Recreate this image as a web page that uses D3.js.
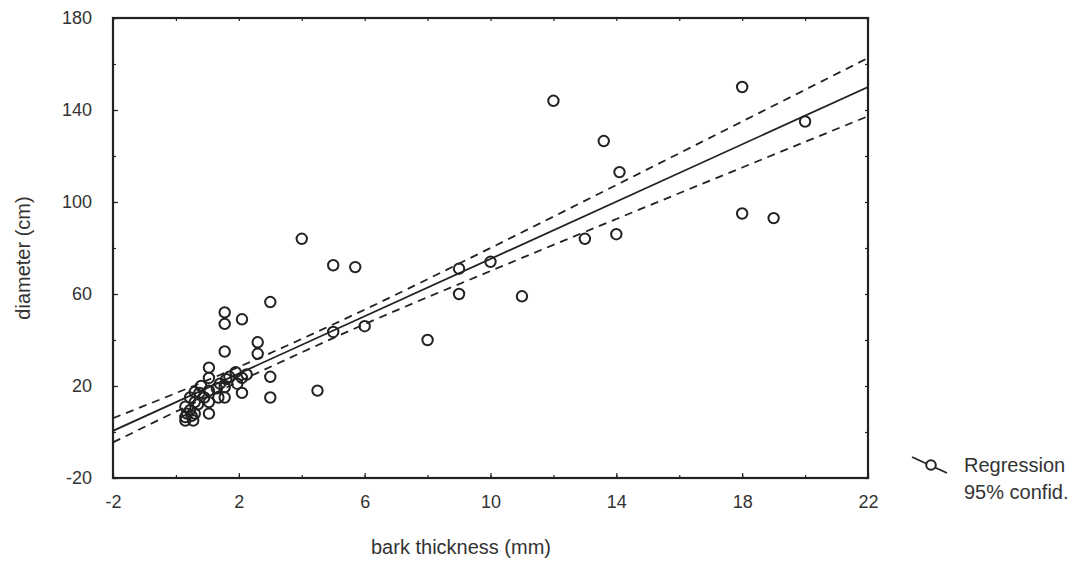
<!DOCTYPE html>
<html>
<head>
<meta charset="UTF-8">
<title>bark thickness vs diameter</title>
<script src="https://d3js.org/d3.v7.min.js"></script>
<style>
  body { margin: 0; background: #fff; }
  text { font-family: "Liberation Sans", Arial, sans-serif; fill: #333; }
</style>
</head>
<body>
<script>
var w = 1072, h = 561;

// observations: bark thickness (mm), diameter (cm)
var barkX = [12, 13.6, 14.1, 18, 20, 18, 19, 13, 14, 10, 9, 9, 11, 8, 6, 5, 5, 5.7, 4, 3,
  4.5, 3, 3, 2.6, 2.6, 2.1, 1.55, 1.55, 1.55, 2.1, 2.25, 2.1, 1.9, 1.7, 1.55, 1.55, 1.35,
  1.05, 1.05, 1.05, 1.05, 1.05, 0.8, 0.75, 0.6, 0.6, 0.6, 0.55, 0.3, 0.3, 0.3, 0.45, 0.45,
  1.3, 1.4, 1.6, 1.95, 0.5, 0.35, 0.7, 0.9];
var diamY = [144, 126.5, 113, 150, 135, 95, 93, 84, 86, 74, 71, 60, 59, 40, 46, 43.5, 72.5, 71.7, 84, 56.5,
  18, 24, 15, 39, 34, 49, 52, 47, 35, 17, 25, 23.5, 26, 24, 15, 19.5, 15,
  28, 23.5, 18, 13, 8, 20, 17, 17.4, 13, 8, 5, 11, 6.5, 5, 15, 9.5,
  19, 21, 23, 21, 7, 8, 12, 15];

// regression line and 95% band
var fitX = [-2, 22];
var fitY = [0.5, 150];
var bandX = [-2, 2, 6, 10, 14, 18, 22];
var upperY = [6, 28.3, 53.2, 80, 107.4, 135, 162.6];
var lowerY = [-4.5, 21.9, 46.9, 70, 92.6, 115, 137.3];

var xTicks = [-2, 2, 6, 10, 14, 18, 22];
var yTicks = [-20, 20, 60, 100, 140, 180];

var m = {left: 113, right: 868, top: 18, bottom: 478};

var x = d3.scaleLinear().domain([-2, 22]).range([m.left, m.right]);
var y = d3.scaleLinear().domain([-20, 180]).range([m.bottom, m.top]);

var svg = d3.select("body").append("svg").attr("width", w).attr("height", h);

svg.append("defs").append("clipPath").attr("id", "clip")
  .append("rect")
  .attr("x", m.left).attr("y", m.top)
  .attr("width", m.right - m.left).attr("height", m.bottom - m.top);

// axes with inward ticks, hyphen minus like the original
var fmt = function(d) { return String(d); };
var minorX = d3.range(-2, 22.1, 2);
var minorY = d3.range(-20, 180.1, 20);

function noDomain(g) { g.select(".domain").remove(); }

svg.append("g").attr("transform", "translate(0," + m.bottom + ")")
  .call(d3.axisBottom(x).tickValues(xTicks).tickSize(-5).tickPadding(17).tickFormat(fmt))
  .call(noDomain);
svg.append("g").attr("transform", "translate(" + m.left + ",0)")
  .call(d3.axisLeft(y).tickValues(yTicks).tickSize(-5).tickPadding(21).tickFormat(fmt))
  .call(noDomain);
svg.append("g").attr("transform", "translate(0," + m.top + ")")
  .call(d3.axisTop(x).tickValues(minorX).tickSize(-3).tickFormat(""))
  .call(noDomain);
svg.append("g").attr("transform", "translate(" + m.right + ",0)")
  .call(d3.axisRight(y).tickValues(minorY).tickSize(-3).tickFormat(""))
  .call(noDomain);
svg.append("g").attr("transform", "translate(" + m.left + ",0)")
  .call(d3.axisLeft(y).tickValues(minorY).tickSize(-3).tickFormat(""))
  .call(noDomain);
svg.append("g").attr("transform", "translate(0," + m.bottom + ")")
  .call(d3.axisBottom(x).tickValues(minorX).tickSize(-3).tickFormat(""))
  .call(noDomain);

svg.selectAll(".tick text").attr("font-size", "18px").attr("fill", "#333");
svg.selectAll(".tick line").attr("stroke", "#222").attr("stroke-width", 1.2);

svg.append("rect")
  .attr("x", m.left).attr("y", m.top)
  .attr("width", m.right - m.left).attr("height", m.bottom - m.top)
  .attr("fill", "none").attr("stroke", "#222").attr("stroke-width", 2.2);

var plot = svg.append("g").attr("clip-path", "url(#clip)");

var line = d3.line().x(function(d) { return x(d[0]); }).y(function(d) { return y(d[1]); });
var curve = d3.line().curve(d3.curveMonotoneX)
  .x(function(d) { return x(d[0]); }).y(function(d) { return y(d[1]); });

plot.append("path")
  .attr("d", curve(d3.zip(bandX, upperY)))
  .attr("fill", "none").attr("stroke", "#222").attr("stroke-width", 1.8)
  .attr("stroke-dasharray", "8,6");
plot.append("path")
  .attr("d", curve(d3.zip(bandX, lowerY)))
  .attr("fill", "none").attr("stroke", "#222").attr("stroke-width", 1.8)
  .attr("stroke-dasharray", "8,6");
plot.append("path")
  .attr("d", line(d3.zip(fitX, fitY)))
  .attr("fill", "none").attr("stroke", "#222").attr("stroke-width", 1.8);

plot.selectAll("circle")
  .data(d3.zip(barkX, diamY))
  .enter()
  .append("circle")
  .attr("cx", function(d) { return x(d[0]); })
  .attr("cy", function(d) { return y(d[1]); })
  .attr("r", 5.2)
  .attr("fill", "none")
  .attr("stroke", "#222")
  .attr("stroke-width", 2);

// axis titles
svg.append("text")
  .attr("x", 461).attr("y", 554)
  .attr("text-anchor", "middle").attr("font-size", "20px")
  .text("bark thickness (mm)");
svg.append("text")
  .attr("transform", "translate(30,258) rotate(-90)")
  .attr("text-anchor", "middle").attr("font-size", "20px")
  .text("diameter (cm)");

// legend
var lg = svg.append("g");
lg.append("line")
  .attr("x1", 912).attr("y1", 457).attr("x2", 947).attr("y2", 473)
  .attr("stroke", "#222").attr("stroke-width", 1.8);
lg.append("circle")
  .attr("cx", 931).attr("cy", 465).attr("r", 4.8)
  .attr("fill", "#fff").attr("stroke", "#222").attr("stroke-width", 2);
lg.append("text").attr("x", 964).attr("y", 472).attr("font-size", "20px").text("Regression");
lg.append("text").attr("x", 964).attr("y", 499).attr("font-size", "20px").text("95% confid.");
</script>
</body>
</html>
